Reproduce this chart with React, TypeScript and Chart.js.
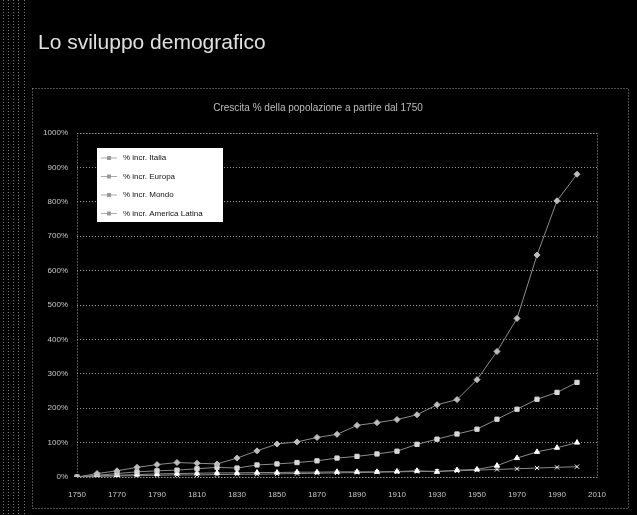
import React, { useEffect, useRef } from "react";
import { Chart, registerables } from "chart.js";

Chart.register(...registerables);

const years = [
  "1750", "1760", "1770", "1780", "1790", "1800", "1810", "1820", "1830",
  "1840", "1850", "1860", "1870", "1880", "1890", "1900", "1910", "1920",
  "1930", "1940", "1950", "1960", "1970", "1980", "1990", "2000", "2010",
];
const seriesNames = [
  "% incr. Italia",
  "% incr. Europa",
  "% incr. Mondo",
  "% incr. America Latina",
];
const serieA = [0, 10, 18, 28, 36, 42, 40, 38, 55, 76, 96, 102, 115, 124, 150, 158, 167, 181, 210, 225, 283, 365, 461, 645, 803, 880, null];
const serieB = [0, 5, 10, 15, 18, 20, 24, 28, 26, 35, 38, 42, 47, 55, 60, 67, 75, 95, 110, 125, 139, 168, 197, 226, 246, 275, null];
const serieC = [0, 3, 5, 7, 9, 10, 11, 12, 12, 13, 13, 14, 14, 15, 15, 15, 16, 18, 15, 20, 22, 33, 55, 73, 85, 100, null];
const serieD = [0, 2, 3, 4, 5, 6, 6, 7, 8, 8, 9, 10, 11, 12, 13, 14, 15, 16, 17, 18, 20, 22, 24, 26, 28, 30, null];
const yTicks = [0, 100, 200, 300, 400, 500, 600, 700, 800, 900, 1000];

const mainTitle = "Lo sviluppo demografico";
const subTitle = "Crescita % della popolazione a partire dal 1750";

const styles = [
  { color: "#bdbdbd", point: "rectRot" },
  { color: "#d8d8d8", point: "rect" },
  { color: "#ffffff", point: "triangle" },
  { color: "#ffffff", point: "crossRot" },
];

const decor = {
  id: "decor",
  beforeDraw(chart: any) {
    const ctx = chart.ctx;
    ctx.save();
    ctx.fillStyle = "#000";
    ctx.fillRect(0, 0, chart.width, chart.height);
    ctx.strokeStyle = "#777";
    ctx.setLineDash([1, 2]);
    ctx.lineWidth = 1;
    for (const x of [3, 8, 13, 18, 24]) {
      ctx.beginPath();
      ctx.moveTo(x + 0.5, 0);
      ctx.lineTo(x + 0.5, chart.height);
      ctx.stroke();
    }
    ctx.strokeStyle = "#9a9a9a";
    ctx.strokeRect(32.5, 88.5, 596, 420);
    const a = chart.chartArea;
    ctx.strokeStyle = "#a0a0a0";
    ctx.strokeRect(a.left + 0.5, a.top + 0.5, a.right - a.left, a.bottom - a.top);
    ctx.setLineDash([]);
    ctx.fillStyle = "#e0e0e0";
    ctx.textBaseline = "alphabetic";
    ctx.textAlign = "left";
    ctx.font = "21px 'Liberation Sans', Arial, sans-serif";
    ctx.fillText(mainTitle, 38, 49);
    ctx.textAlign = "center";
    ctx.font = "10px 'Liberation Sans', Arial, sans-serif";
    ctx.fillStyle = "#bdbdbd";
    ctx.fillText(subTitle, 318, 111);
    ctx.restore();
  },
  afterDraw(chart: any) {
    const ctx = chart.ctx;
    ctx.save();
    const x0 = 97, y0 = 148, w = 126, h = 74;
    ctx.fillStyle = "#ffffff";
    ctx.fillRect(x0, y0, w, h);
    ctx.font = "8px 'Liberation Sans', Arial, sans-serif";
    ctx.textBaseline = "middle";
    ctx.textAlign = "left";
    chart.data.datasets.forEach((ds: any, i: number) => {
      const y = y0 + 10 + i * 18.5;
      ctx.strokeStyle = "#aaa";
      ctx.lineWidth = 1;
      ctx.beginPath();
      ctx.moveTo(x0 + 4, y);
      ctx.lineTo(x0 + 20, y);
      ctx.stroke();
      ctx.fillStyle = "#999";
      ctx.fillRect(x0 + 10, y - 2, 4, 4);
      ctx.fillStyle = "#111";
      ctx.fillText(ds.label, x0 + 26, y);
    });
    ctx.restore();
  },
};

export default function App() {
  const ref = useRef<HTMLCanvasElement | null>(null);
  useEffect(() => {
    document.body.style.margin = "0";
    document.body.style.background = "#000";
    const canvas = ref.current!;
    const data = [serieA, serieB, serieC, serieD];
    const chart = new Chart(canvas, {
      type: "line",
      data: {
        labels: years,
        datasets: data.map((d, i) => ({
          label: seriesNames[i],
          data: d,
          borderColor: "#8c8c8c",
          borderWidth: 1,
          backgroundColor: styles[i].color,
          pointBackgroundColor: styles[i].color,
          pointBorderColor: styles[i].color,
          pointStyle: styles[i].point as any,
          pointRadius: 3,
          tension: 0,
          spanGaps: false,
        })),
      },
      options: {
        animation: false,
        responsive: false,
        devicePixelRatio: 1,
        layout: { padding: { left: 0, right: 40, top: 133, bottom: 0 } },
        plugins: { legend: { display: false }, tooltip: { enabled: false }, title: { display: false } },
        scales: {
          x: {
            offset: false,
            grid: { display: false },
            border: { display: false },
            afterFit: (s: any) => { s.height = 38; },
            ticks: {
              autoSkip: false,
              maxRotation: 0,
              padding: 5,
              color: "#c8c8c8",
              font: { size: 8, family: "'Liberation Sans', Arial, sans-serif" },
              callback: (_v: any, i: number) => (i % 2 === 0 ? years[i] : ""),
            },
          },
          y: {
            min: 0,
            max: 1000,
            afterFit: (s: any) => { s.width = 77; },
            afterBuildTicks: (s: any) => { s.ticks = yTicks.map((v) => ({ value: v })); },
            grid: { color: "#9a9a9a", drawTicks: false, lineWidth: 1 },
            border: { display: false, dash: [1, 2] },
            ticks: {
              padding: 9,
              color: "#c8c8c8",
              font: { size: 8, family: "'Liberation Sans', Arial, sans-serif" },
              callback: (v: any) => v + "%",
            },
          },
        },
      },
      plugins: [decor],
    });
    (chart.options.scales as any).y.grid.borderDash = [1, 2];
    (chart.options.scales as any).y.border.dash = [1, 2];
    chart.update();
    return () => chart.destroy();
  }, []);
  return (
    <div style={{ width: 637, height: 515, background: "#000" }}>
      <canvas ref={ref} width={637} height={515} style={{ display: "block" }} />
    </div>
  );
}
